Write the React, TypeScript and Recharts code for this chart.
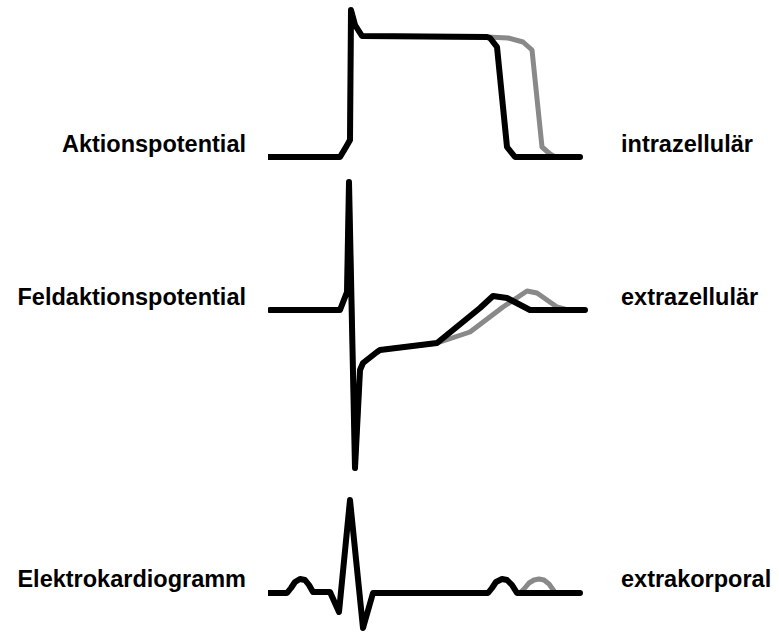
import { LineChart, Line, XAxis, YAxis } from "recharts";

type Pt = { t: number; v: number };

// time axis in px-like units from the left end of each trace, amplitude above baseline
const apTime = [0, 72, 78, 82, 83, 87, 94, 219, 222, 229, 239, 247, 312];
const apBlack = [0, 0, 10, 17, 147, 132, 121, 120, 119, 110, 10, 0, 0];
const apGrayTime = [0, 72, 78, 82, 83, 87, 94, 219, 240, 255, 264, 274, 282, 287, 312];
const apGray = [0, 0, 10, 17, 147, 132, 121, 120, 119, 115, 107, 10, 3, 0, 0];

const fapTime = [2, 72, 79, 81, 87, 92, 95, 109, 112, 169, 212, 225, 239, 262, 317];
const fapBlack = [0, 0, 18, 128, -158, -60, -53, -42, -40, -33, 2, 14, 12, 0, 0];
const fapGrayTime = [2, 72, 79, 81, 87, 92, 95, 109, 112, 169, 172, 202, 235, 259, 269, 289, 300, 317];
const fapGray = [0, 0, 18, 128, -158, -60, -53, -42, -40, -33, -32, -22, 3, 19, 17, 3, 0, 0];

const ekgTime = [0, 19, 23, 27, 32, 37, 41, 45, 62, 71, 82, 95, 105, 220, 224, 228, 234, 239, 244, 249, 312];
const ekgBlack = [0, 0, 5, 11, 14, 13, 8, 1, 1, -19, 93, -35, 0, 0, 5, 11, 14, 13, 8, 0, 0];
const ekgGrayTime = [252, 256, 261, 266, 271, 276, 281, 286];
const ekgGray = [0, 4, 10, 13, 14, 13, 9, 2];

const labelsLeft = ["Aktionspotential", "Feldaktionspotential", "Elektrokardiogramm"];
const labelsRight = ["intrazellulär", "extrazellulär", "extrakorporal"];
const labelBaselines = [152, 305, 587];

const zip = (t: number[], v: number[]): Pt[] => t.map((x, i) => ({ t: x, v: v[i] }));

const BLACK = "#000000";
const GRAY = "#898989";

function Trace({
  top,
  height,
  domain,
  black,
  gray,
}: {
  top: number;
  height: number;
  domain: [number, number];
  black: Pt[];
  gray: Pt[];
}) {
  return (
    <div style={{ position: "absolute", left: 258, top, width: 340, height }}>
      <LineChart width={340} height={height} margin={{ top: 0, right: 0, bottom: 0, left: 10 }}>
        <XAxis dataKey="t" type="number" domain={[0, 330]} hide allowDataOverflow />
        <YAxis type="number" domain={domain} hide allowDataOverflow />
        <Line
          data={gray}
          dataKey="v"
          type="linear"
          stroke={GRAY}
          strokeWidth={5}
          strokeLinejoin="round"
          strokeLinecap="round"
          dot={false}
          isAnimationActive={false}
        />
        <Line
          data={black}
          dataKey="v"
          type="linear"
          stroke={BLACK}
          strokeWidth={6}
          strokeLinejoin="round"
          strokeLinecap="round"
          dot={false}
          isAnimationActive={false}
        />
      </LineChart>
    </div>
  );
}

export default function App() {
  const fontStyle = {
    fontFamily: "'Liberation Sans', Arial, sans-serif",
    fontWeight: 700,
    fontSize: 23.5,
    fill: "#000",
  };
  return (
    <div style={{ position: "absolute", left: 0, top: 0, width: 779, height: 634, background: "#fff", overflow: "hidden" }}>
      <Trace top={0} height={170} domain={[-13, 157]} black={zip(apTime, apBlack)} gray={zip(apGrayTime, apGray)} />
      <Trace top={170} height={310} domain={[-170, 140]} black={zip(fapTime, fapBlack)} gray={zip(fapGrayTime, fapGray)} />
      <Trace top={480} height={154} domain={[-41, 113]} black={zip(ekgTime, ekgBlack)} gray={zip(ekgGrayTime, ekgGray)} />
      <svg width={779} height={634} style={{ position: "absolute", left: 0, top: 0, pointerEvents: "none" }}>
        {labelsLeft.map((s, i) => (
          <text key={s} x={246} y={labelBaselines[i]} textAnchor="end" style={fontStyle}>
            {s}
          </text>
        ))}
        {labelsRight.map((s, i) => (
          <text key={s} x={621} y={labelBaselines[i]} textAnchor="start" style={fontStyle}>
            {s}
          </text>
        ))}
      </svg>
    </div>
  );
}
